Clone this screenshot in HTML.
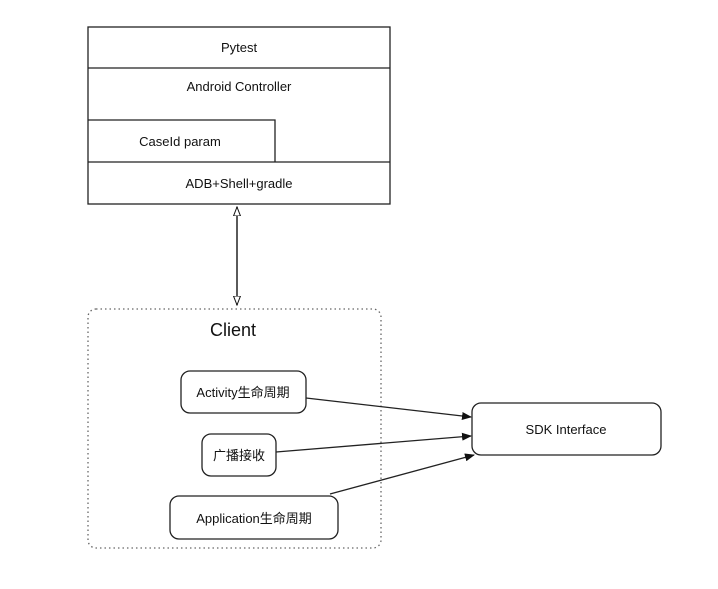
<!DOCTYPE html>
<html><head><meta charset="utf-8"><style>
body{margin:0;background:#fff}
svg text{font-family:"Liberation Sans","Noto Sans CJK SC",sans-serif;fill:#111}
</style></head><body>
<svg width="718" height="584" viewBox="0 0 718 584" xmlns="http://www.w3.org/2000/svg">
<defs>
<marker id="a" markerWidth="10" markerHeight="8" refX="9" refY="4" orient="auto" markerUnits="userSpaceOnUse"><path d="M0,0 L10,4 L0,8 Z" fill="#111"/></marker>
<marker id="o" markerWidth="10" markerHeight="10" refX="9" refY="4" orient="auto-start-reverse" markerUnits="userSpaceOnUse"><path d="M0,0.5 L9,4 L0,7.5 Z" fill="#fff" stroke="#111" stroke-width="1"/></marker>
</defs>
<g stroke="#222" stroke-width="1.3" fill="none">
<rect x="88" y="27" width="302" height="177"/>
<line x1="88" y1="68" x2="390" y2="68"/>
<line x1="88" y1="162" x2="390" y2="162"/>
<polyline points="88,120 275,120 275,162"/>
<line x1="237" y1="207" x2="237" y2="305" stroke-width="1.5" marker-end="url(#o)" marker-start="url(#o)"/>
<rect x="88" y="309" width="293" height="239" rx="8" stroke="#666" stroke-dasharray="1.5,3"/>
<rect x="181" y="371" width="125" height="42" rx="9"/>
<rect x="202" y="434" width="74" height="42" rx="9"/>
<rect x="170" y="496" width="168" height="43" rx="9"/>
<rect x="472" y="403" width="189" height="52" rx="9"/>
<line x1="306" y1="398" x2="471" y2="417" marker-end="url(#a)"/>
<line x1="276" y1="452" x2="471" y2="436" marker-end="url(#a)"/>
<line x1="330" y1="494" x2="474" y2="455" marker-end="url(#a)"/>
</g>
<g font-size="13" text-anchor="middle">
<text x="239" y="52">Pytest</text>
<text x="239" y="91">Android Controller</text>
<text x="180" y="146">CaseId  param</text>
<text x="239" y="188">ADB+Shell+gradle</text>
<text x="233" y="336" font-size="18">Client</text>
<text x="243" y="397">Activity生命周期</text>
<text x="239" y="460">广播接收</text>
<text x="254" y="523">Application生命周期</text>
<text x="566" y="434">SDK Interface</text>
</g>
</svg>
</body></html>
